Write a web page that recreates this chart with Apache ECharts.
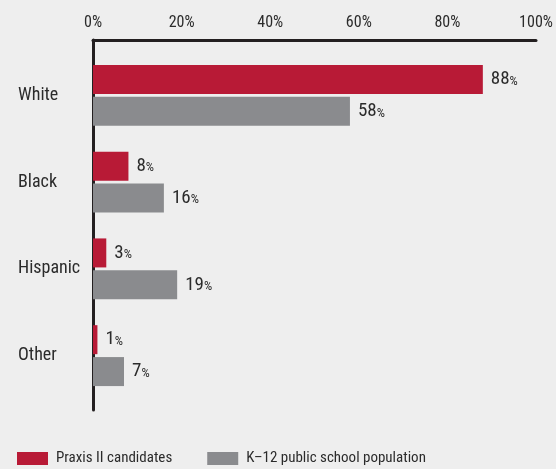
<!DOCTYPE html>
<html>
<head>
<meta charset="utf-8">
<script src="https://cdn.jsdelivr.net/npm/echarts@6/dist/echarts.min.js"></script>
<style>
html,body{margin:0;padding:0;background:#eeeeee;}
#c{width:556px;height:469px;}
</style>
</head>
<body>
<div id="c"></div>
<script>
var categories = ['White', 'Black', 'Hispanic', 'Other'];
var praxis = [88, 8, 3, 1];
var k12 = [58, 16, 19, 7];
var tickValues = [0, 20, 40, 60, 80, 100];
var seriesNames = ['Praxis II candidates', 'K\u201312 public school population'];

var FONT = '"Roboto Condensed", "DejaVu Sans Condensed", sans-serif';
var RED = '#b81a36';
var GRAY = '#8a8b8e';
var TEXT = '#2b2b2b';

var chart = echarts.init(document.getElementById('c'));
function pctLabel(p) {
  return '{a|' + p.value + '}{b|%}';
}
var labelCfg = {
  show: true,
  position: 'right',
  distance: 8,
  formatter: pctLabel,
  rich: {
    a: {fontFamily: FONT, fontSize: 19, color: TEXT},
    b: {fontFamily: FONT, fontSize: 13, color: TEXT, padding: [4, 0, 0, 0]}
  }
};
chart.setOption({
  backgroundColor: '#eeeeee',
  animation: false,
  legend: {
    left: 12,
    top: 446,
    itemWidth: 31,
    itemHeight: 13,
    itemGap: 35,
    icon: 'rect',
    textStyle: {fontFamily: FONT, fontSize: 15, color: TEXT, padding: [0, 0, 0, 3]},
    data: seriesNames
  },
  grid: [
    {left: 93, right: 20, top: 40, bottom: 59},
    {left: 93, right: 20, top: 52, bottom: 70}
  ],
  xAxis: [
    {
      gridIndex: 0, type: 'value', position: 'top', min: 0, max: 100, interval: 20,
      axisLine: {show: true, onZero: false, lineStyle: {color: '#231f20', width: 3}},
      axisTick: {show: false},
      splitLine: {show: false},
      axisLabel: {
        margin: 9,
        fontFamily: FONT, fontSize: 16, color: TEXT,
        formatter: function (v) { return tickValues.indexOf(v) >= 0 ? v + '%' : ''; }
      }
    },
    {
      gridIndex: 1, type: 'value', min: 0, max: 100, show: false
    }
  ],
  yAxis: [
    {
      gridIndex: 0, type: 'value', min: 0, max: 1,
      axisLine: {show: true, onZero: false, lineStyle: {color: '#231f20', width: 3}},
      axisTick: {show: false}, axisLabel: {show: false}, splitLine: {show: false}
    },
    {
      gridIndex: 1, type: 'category', data: categories, inverse: true,
      axisLine: {show: false}, axisTick: {show: false},
      axisLabel: {margin: 75, align: 'left', fontFamily: FONT, fontSize: 18, color: TEXT, padding: [3, 0, 0, 0]}
    }
  ],
  series: [
    {
      name: seriesNames[0], type: 'bar', xAxisIndex: 1, yAxisIndex: 1,
      data: praxis, barWidth: 29, barGap: '10%',
      itemStyle: {color: RED}, label: labelCfg
    },
    {
      name: seriesNames[1], type: 'bar', xAxisIndex: 1, yAxisIndex: 1,
      data: k12, barWidth: 29, barGap: '10%',
      itemStyle: {color: GRAY}, label: labelCfg
    }
  ]
});
</script>
</body>
</html>
